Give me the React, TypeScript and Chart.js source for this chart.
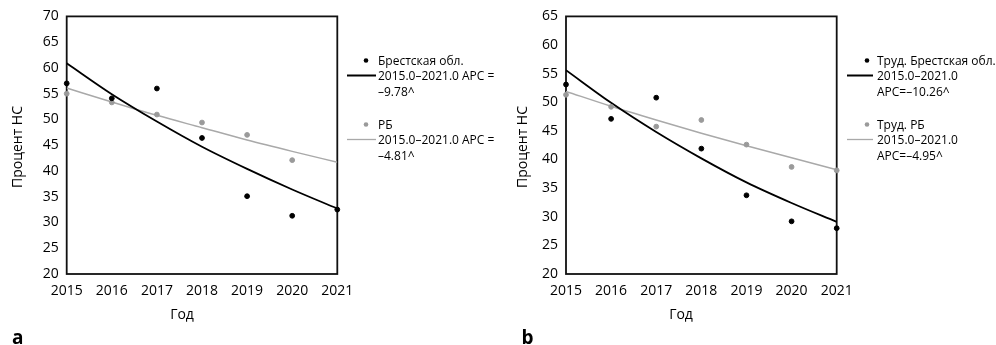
import React, { useEffect, useRef } from "react";
import { Chart, registerables } from "chart.js";

Chart.register(...registerables);
Chart.defaults.font.family = "'Open Sans', sans-serif";

// ---- data ----
const years = [2015, 2016, 2017, 2018, 2019, 2020, 2021];
const yearsRbA = [2015, 2016, 2017, 2018, 2019, 2020];

// panel a
const brestA = [57.0, 54.1, 56.0, 46.4, 35.1, 31.3, 32.5];
const rbA = [55.0, 53.3, 50.95, 49.4, 47.0, 42.1];
const brestTrendA = [60.9, 54.9, 49.6, 44.7, 40.4, 36.4, 32.7];
const rbTrendA = [56.1, 53.4, 50.8, 48.4, 46.0, 43.8, 41.7];

// panel b
const brestB = [53.1, 47.1, 50.8, 41.9, 33.75, 29.2, 28.0];
const rbB = [51.3, 49.2, 45.75, 46.9, 42.6, 38.7, 38.1];
const brestTrendB = [55.6, 49.9, 44.8, 40.2, 36.0, 32.4, 29.1];
const rbTrendB = [51.9, 49.3, 46.9, 44.6, 42.4, 40.3, 38.2];

// axis ranges / labels
const yRangeA = [20, 70];
const yRangeB = [20, 65];
const yStep = 5;
const xTitle = "Год";
const yTitle = "Процент НС";

const legendA1 = ["Брестская обл.", "2015.0–2021.0 APC =", "–9.78^"];
const legendA2 = ["РБ", "2015.0–2021.0 APC =", "–4.81^"];
const legendB1 = ["Труд. Брестская обл.", "2015.0–2021.0", "APC=–10.26^"];
const legendB2 = ["Труд. РБ", "2015.0–2021.0", "APC=–4.95^"];

const BLACK = "#000000";
const GRAY_PT = "#9a9a9a";
const GRAY_LN = "#a9a9a9";

type PanelProps = {
  letter: string;
  pts1: number[];
  pts2: number[];
  pts2Years: number[];
  trend1: number[];
  trend2: number[];
  yRange: number[];
  legend1: string[];
  legend2: string[];
  yAxisWidth: number;
  rightPad: number;
  yTitleX: number;
  xTitleX: number;
  letterX: number;
  legendLineX: number[];
  legendDotX: number;
  legendTextX: number;
};

function toXY(xs: number[], ys: number[]) {
  return ys.map((y, i) => ({ x: xs[i], y }));
}

function Panel(p: PanelProps) {
  const ref = useRef<HTMLCanvasElement>(null);
  useEffect(() => {
    if (!ref.current) return;
    const decor = {
      id: "decor",
      beforeDatasetsDraw(chart: any) {
        const { ctx, chartArea: a } = chart;
        ctx.save();
        ctx.strokeStyle = "#111";
        ctx.lineWidth = 1.8;
        ctx.strokeRect(a.left, a.top, a.right - a.left, a.bottom - a.top);
        ctx.restore();
      },
      afterDraw(chart: any) {
        const { ctx } = chart;
        ctx.save();
        ctx.fillStyle = "#000";
        // y title
        ctx.font = "14px 'Open Sans'";
        ctx.textAlign = "center";
        ctx.textBaseline = "middle";
        ctx.save();
        ctx.translate(p.yTitleX, 147);
        ctx.rotate(-Math.PI / 2);
        ctx.fillText(yTitle, 0, 0);
        ctx.restore();
        // x title
        ctx.textBaseline = "alphabetic";
        ctx.fillText(xTitle, p.xTitleX, 319);
        // letter
        ctx.font = "bold 19px 'Open Sans'";
        ctx.textAlign = "left";
        ctx.fillText(p.letter, p.letterX, 344);
        // legend
        ctx.font = "12px 'Open Sans'";
        const groups = [
          { lines: p.legend1, base: 64.5, color: BLACK, lw: 2, dot: BLACK },
          { lines: p.legend2, base: 128.5, color: GRAY_LN, lw: 1.3, dot: GRAY_PT },
        ];
        groups.forEach((g) => {
          g.lines.forEach((t, i) => {
            ctx.fillText(t, p.legendTextX, g.base + i * 15.5);
          });
          ctx.fillStyle = g.dot;
          ctx.beginPath();
          ctx.arc(p.legendDotX, g.base - 4, 2.3, 0, Math.PI * 2);
          ctx.fill();
          ctx.strokeStyle = g.color;
          ctx.lineWidth = g.lw;
          ctx.beginPath();
          ctx.moveTo(p.legendLineX[0], g.base + 11);
          ctx.lineTo(p.legendLineX[1], g.base + 11);
          ctx.stroke();
          ctx.fillStyle = "#000";
        });
        ctx.restore();
      },
    };
    const chart = new Chart(ref.current, {
      type: "scatter",
      data: {
        datasets: [
          {
            label: "pts1",
            data: toXY(years, p.pts1),
            backgroundColor: BLACK,
            borderColor: BLACK,
            pointRadius: 2.4,
            showLine: false,
            order: 0,
            clip: false as any,
          },
          {
            label: "pts2",
            data: toXY(p.pts2Years, p.pts2),
            backgroundColor: GRAY_PT,
            borderColor: GRAY_PT,
            pointRadius: 2.4,
            showLine: false,
            order: 1,
            clip: false as any,
          },
          {
            label: "trend1",
            data: toXY(years, p.trend1),
            borderColor: BLACK,
            borderWidth: 1.8,
            pointRadius: 0,
            showLine: true,
            cubicInterpolationMode: "monotone",
            order: 2,
          },
          {
            label: "trend2",
            data: toXY(years, p.trend2),
            borderColor: GRAY_LN,
            borderWidth: 1.5,
            pointRadius: 0,
            showLine: true,
            cubicInterpolationMode: "monotone",
            order: 3,
          },
        ],
      },
      options: {
        animation: false,
        responsive: false,
        events: [],
        layout: { padding: { left: 0, top: 15.3, right: p.rightPad, bottom: 0 } },
        plugins: { legend: { display: false }, tooltip: { enabled: false } },
        scales: {
          x: {
            type: "linear",
            min: 2015,
            max: 2021,
            grid: { display: false, drawTicks: false },
            border: { display: false },
            ticks: {
              stepSize: 1,
              padding: 9,
              color: "#000",
              font: { size: 14 },
              callback: (v: any) => String(v),
            },
            afterFit: (s: any) => {
              s.height = 345 - 274;
            },
          },
          y: {
            min: p.yRange[0],
            max: p.yRange[1],
            grid: { display: false, drawTicks: false },
            border: { display: false },
            ticks: {
              stepSize: yStep,
              padding: 8,
              color: "#000",
              font: { size: 14 },
            },
            afterFit: (s: any) => {
              s.width = p.yAxisWidth;
            },
          },
        },
      },
      plugins: [decor],
    } as any);
    return () => chart.destroy();
  }, []);
  return <canvas ref={ref} width={498} height={345} style={{ display: "block" }} />;
}

export default function App() {
  return (
    <div style={{ position: "fixed", left: 0, top: 0, width: 996, height: 345, background: "#fff", display: "flex" }}>
      <Panel
        letter="a"
        pts1={brestA}
        pts2={rbA}
        pts2Years={yearsRbA}
        trend1={brestTrendA}
        trend2={rbTrendA}
        yRange={yRangeA}
        legend1={legendA1}
        legend2={legendA2}
        yAxisWidth={66.7}
        rightPad={160.7}
        yTitleX={18}
        xTitleX={182}
        letterX={12}
        legendLineX={[347, 376]}
        legendDotX={366}
        legendTextX={378}
      />
      <Panel
        letter="b"
        pts1={brestB}
        pts2={rbB}
        pts2Years={years}
        trend1={brestTrendB}
        trend2={rbTrendB}
        yRange={yRangeB}
        legend1={legendB1}
        legend2={legendB2}
        yAxisWidth={68}
        rightPad={159.3}
        yTitleX={25}
        xTitleX={183}
        letterX={23.5}
        legendLineX={[349, 375]}
        legendDotX={369}
        legendTextX={379}
      />
    </div>
  );
}
